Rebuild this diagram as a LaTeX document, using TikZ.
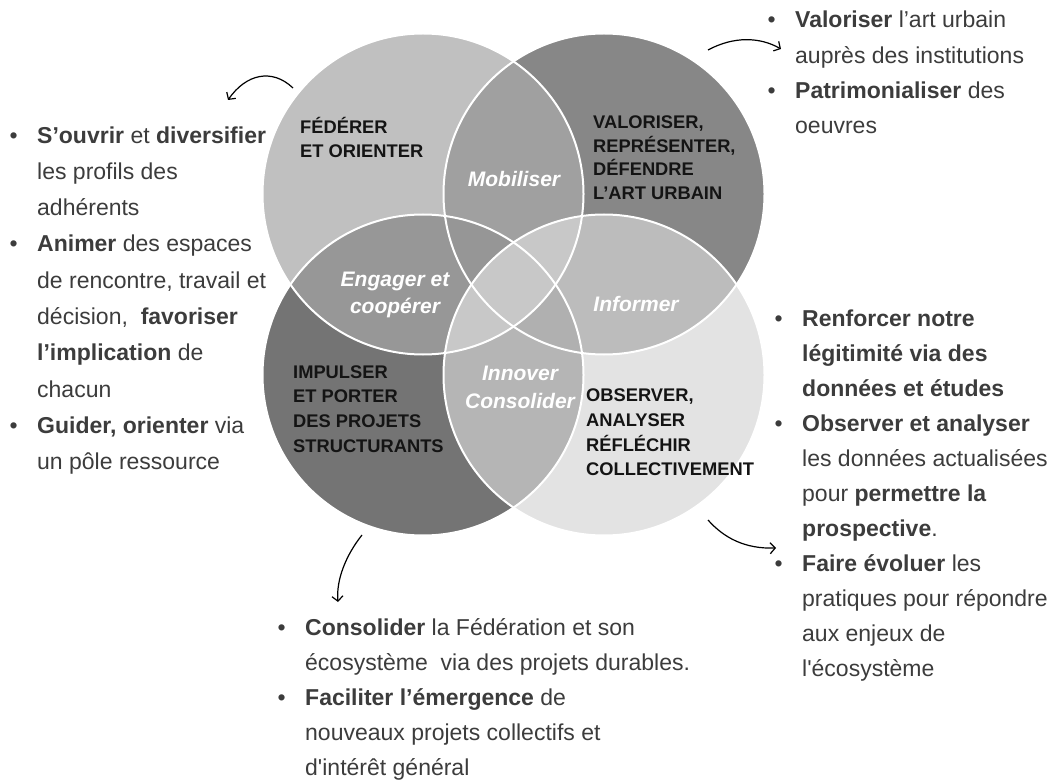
\documentclass[tikz,border=0pt]{standalone}
\usepackage{fontspec}
\setmainfont{Liberation Sans}
\usetikzlibrary{arrows.meta}
\definecolor{cTL}{HTML}{C0C0C0}
\definecolor{cTR}{HTML}{878787}
\definecolor{cBL}{HTML}{747474}
\definecolor{cBR}{HTML}{E3E3E3}
\definecolor{pTLTR}{HTML}{A0A0A0}
\definecolor{pTLBL}{HTML}{979797}
\definecolor{pTRBR}{HTML}{BCBCBC}
\definecolor{pBLBR}{HTML}{B5B5B5}
\definecolor{pTLBR}{HTML}{C8C8C8}
\definecolor{pTRBL}{HTML}{B0B0B0}
\definecolor{tA}{HTML}{969696}
\definecolor{tB}{HTML}{C8C8C8}
\definecolor{tC}{HTML}{C8C8C8}
\definecolor{tD}{HTML}{B0B0B0}
\definecolor{quad}{HTML}{C8C8C8}
\definecolor{bodytext}{HTML}{3C3C3C}
\newcommand{\bul}{\llap{\textbullet\hspace{19.5pt}}}
\begin{document}
\begin{tikzpicture}[x=1pt,y=-1pt,
  captext/.style={font=\fontsize{18.3}{24.3}\selectfont\bfseries, text=black!92, anchor=base west, inner sep=0pt, align=left},
  lenstext/.style={font=\fontsize{21}{27.5}\selectfont\bfseries\itshape, text=white, anchor=base, inner sep=0pt, align=center},
  listtext/.style={font=\fontsize{23}{35}\selectfont, text=bodytext, anchor=base west, inner sep=0pt, align=left},
  curvearrow/.style={line width=1.2pt, black, -{Straight Barb[length=5pt,width=11pt]}},
  ring/.style={white, line width=2pt}]
\useasboundingbox (0,0) rectangle (1054,783);
\def\R{160.5}
\coordinate (tl) at (423,194);
\coordinate (tr) at (604,194);
\coordinate (bl) at (423,375);
\coordinate (br) at (604,375);
% single circles
\fill[cTL] (tl) circle (\R);
\fill[cTR] (tr) circle (\R);
\fill[cBL] (bl) circle (\R);
\fill[cBR] (br) circle (\R);
% pairs
\begin{scope}
  \clip (tl) circle (\R);
  \fill[pTLTR] (tr) circle (\R);
  \fill[pTLBL] (bl) circle (\R);
  \fill[pTLBR] (br) circle (\R);
\end{scope}
\begin{scope}
  \clip (tr) circle (\R);
  \fill[pTRBR] (br) circle (\R);
  \fill[pTRBL] (bl) circle (\R);
\end{scope}
\begin{scope}
  \clip (bl) circle (\R);
  \fill[pBLBR] (br) circle (\R);
\end{scope}
% triples
\begin{scope}
  \clip (tl) circle (\R);
  \clip (tr) circle (\R);
  \fill[tA] (bl) circle (\R);
  \fill[tC] (br) circle (\R);
\end{scope}
\begin{scope}
  \clip (bl) circle (\R);
  \clip (br) circle (\R);
  \fill[tB] (tl) circle (\R);
  \fill[tD] (tr) circle (\R);
\end{scope}
% all four
\begin{scope}
  \clip (tl) circle (\R);
  \clip (tr) circle (\R);
  \clip (bl) circle (\R);
  \fill[quad] (br) circle (\R);
\end{scope}
% outlines
\draw[ring] (tl) circle (\R);
\draw[ring] (tr) circle (\R);
\draw[ring] (bl) circle (\R);
\draw[ring] (br) circle (\R);

% circle labels (base anchor = baseline of last line)
\node[captext] (federer) at (300,157.6) {FÉDÉRER\\ET ORIENTER};
\node[captext, font=\fontsize{18.3}{23.5}\selectfont\bfseries] (valoriser) at (593,199.5) {VALORISER,\\REPRÉSENTER,\\DÉFENDRE\\L’ART URBAIN};
\node[captext, font=\fontsize{18.3}{24.8}\selectfont\bfseries] (impulser) at (293,452.4) {IMPULSER\\ET PORTER\\DES PROJETS\\STRUCTURANTS};
\node[captext, font=\fontsize{18.3}{24.7}\selectfont\bfseries] (observer) at (586,475.8) {OBSERVER,\\ANALYSER\\RÉFLÉCHIR\\COLLECTIVEMENT};

% lens labels
\node[lenstext] (mobiliser) at (514,186.7) {Mobiliser};
\node[lenstext, font=\fontsize{21}{27}\selectfont\bfseries\itshape] (engager) at (395,313.5) {Engager et\\coopérer};
\node[lenstext] (informer) at (636,311.7) {Informer};
\node[lenstext, font=\fontsize{21}{28.3}\selectfont\bfseries\itshape] (innover) at (520,408.3) {Innover\\Consolider};

% lists
\node[listtext, font=\fontsize{23}{36.3}\selectfont] (listL) at (37,469.7) {%
\bul\textbf{S’ouvrir} et \textbf{diversifier}\\
les profils des\\
adhérents\\
\bul\textbf{Animer} des espaces\\
de rencontre, travail et\\
décision,\ \ \textbf{favoriser}\\
\textbf{l’implication} de\\
chacun\\
\bul\textbf{Guider, orienter} via\\
un pôle ressource};

\node[listtext, font=\fontsize{23}{35.3}\selectfont] (listTR) at (795,133.9) {%
\bul\textbf{Valoriser} l’art urbain\\
auprès des institutions\\
\bul\textbf{Patrimonialiser} des\\
oeuvres};

\node[listtext] (listBR) at (802,676.7) {%
\bul\textbf{Renforcer notre}\\
\textbf{légitimité via des}\\
\textbf{données et études}\\
\bul\textbf{Observer et analyser}\\
les données actualisées\\
pour \textbf{permettre la}\\
\textbf{prospective}.\\
\bul\textbf{Faire évoluer} les\\
pratiques pour répondre\\
aux enjeux de\\
l\textquotesingle écosystème};

\node[listtext] (listB) at (305,775) {%
\bul\textbf{Consolider} la Fédération et son\\
écosystème\ \ via des projets durables.\\
\bul\textbf{Faciliter l’émergence} de\\
nouveaux projets collectifs et\\
d\textquotesingle intérêt général};

% arrows
\coordinate (a1s) at (293,88);
\coordinate (a1e) at (228,100);
\coordinate (a2s) at (708,50);
\coordinate (a2e) at (781,49);
\coordinate (a3s) at (362,535);
\coordinate (a3e) at (338,602);
\coordinate (a4s) at (708,520);
\coordinate (a4e) at (776,548);
\draw[curvearrow] (a1s) .. controls (272,68) and (246,74) .. (a1e);
\draw[curvearrow] (a2s) .. controls (734,36) and (760,37) .. (a2e);
\draw[curvearrow] (a3s) .. controls (346,555) and (336,580) .. (a3e);
\draw[curvearrow] (a4s) .. controls (724,538) and (745,549) .. (a4e);
\end{tikzpicture}
\end{document}
